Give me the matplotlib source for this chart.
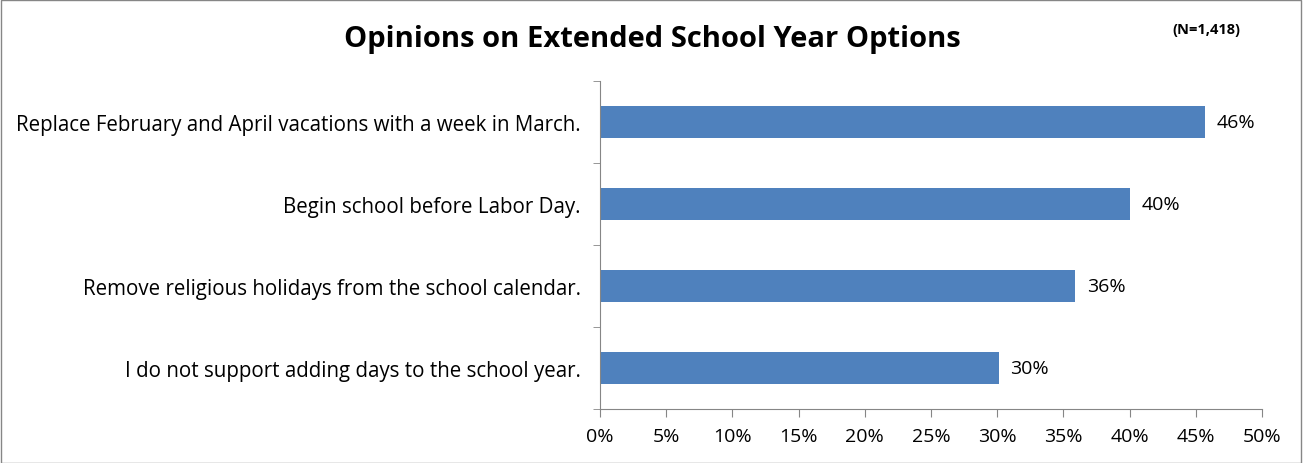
import matplotlib.pyplot as plt
from matplotlib.patches import Rectangle
from matplotlib.ticker import FuncFormatter, MultipleLocator

options = [
    "Replace February and April vacations with a week in March.",
    "Begin school before Labor Day.",
    "Remove religious holidays from the school calendar.",
    "I do not support adding days to the school year.",
]
support = [45.7, 40.0, 35.9, 30.1]

plt.rcParams["font.family"] = ["Open Sans", "DejaVu Sans"]

fig = plt.figure(figsize=(13.03, 4.64), dpi=100)
ax = fig.add_axes([600 / 1303, 1 - 410 / 464, 662 / 1303, 328 / 464])

pos = list(range(len(options)))[::-1]
ax.barh(pos, support, height=0.4, color="#4F81BD")
for y, v in zip(pos, support):
    ax.text(v + 0.9, y, f"{v:.0f}%", va="center", ha="left", fontsize=14)

ax.set_xlim(0, 50)
ax.set_ylim(-0.5, len(options) - 0.5)
ax.xaxis.set_major_locator(MultipleLocator(5))
ax.xaxis.set_major_formatter(FuncFormatter(lambda x, _: f"{x:.0f}%"))
ax.set_yticks(pos)
ax.set_yticklabels(options, fontsize=14.8)
ax.set_yticks([i - 0.5 for i in range(len(options) + 1)], minor=True)
ax.tick_params(axis="y", which="major", length=0, pad=14)
ax.tick_params(axis="y", which="minor", length=5, color="#868686", direction="out")
ax.tick_params(axis="x", length=6, color="#868686", labelsize=14, pad=7)

for side in ("top", "right"):
    ax.spines[side].set_visible(False)
for side in ("left", "bottom"):
    ax.spines[side].set_color("#868686")

fig.text(652 / 1303, 1 - 40 / 464, "Opinions on Extended School Year Options",
         ha="center", va="center", fontsize=21, fontweight="bold")
fig.text(1206 / 1303, 1 - 30 / 464, "(N=1,418)", ha="center", va="center",
         fontsize=10.5, fontweight="bold")

fig.add_artist(Rectangle((0.0008, 0.001), 0.998, 0.996, transform=fig.transFigure,
                         fill=False, edgecolor="#868686", linewidth=1))

fig.savefig("out.png", dpi=100)
